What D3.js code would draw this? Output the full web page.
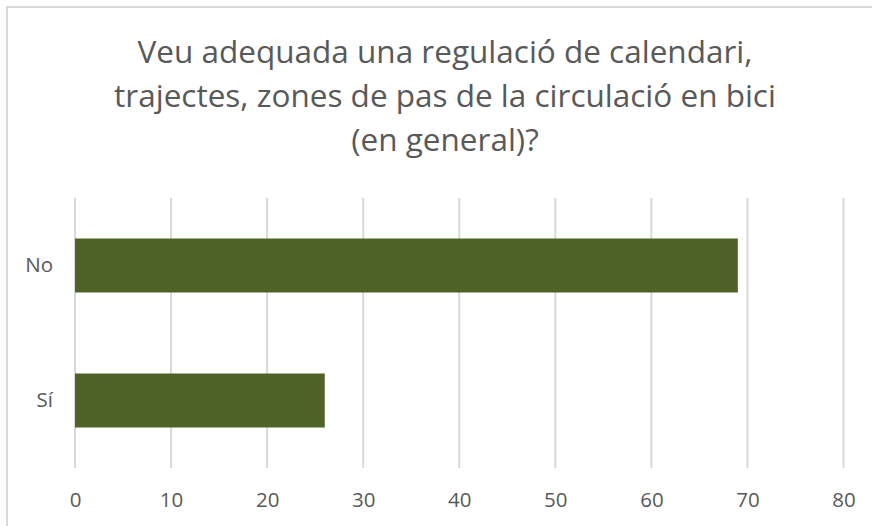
<!DOCTYPE html>
<html>
<head>
<meta charset="utf-8">
<script src="https://cdn.jsdelivr.net/npm/d3@7"></script>
<style>
  body { margin: 0; background: #fff; }
  text { font-family: "Open Sans", sans-serif; fill: #595959; }
</style>
</head>
<body>
<svg></svg>
<script>
var width = 872;
var height = 526;

// data
var categories = ["No", "Sí"];
var values = [69, 26];
var ticks = [0, 10, 20, 30, 40, 50, 60, 70, 80];
var titleLines = [
  "Veu adequada una regulació de calendari,",
  "trajectes, zones de pas de la circulació en bici",
  "(en general)?"
];

var svg = d3.select("svg").attr("width", width).attr("height", height);

var margin = {top: 198, right: 28.5, bottom: 58, left: 75};

// chart border (cut off at right/bottom like the screenshot)
svg.append("rect")
    .attr("x", 7).attr("y", 7)
    .attr("width", 900).attr("height", 600)
    .attr("fill", "none")
    .attr("stroke", "#d9d9d9")
    .attr("stroke-width", 2);

var xScale = d3.scaleLinear().domain([0, 80]).range([margin.left, width - margin.right]);
var yScale = d3.scaleBand().domain(categories)
    .range([margin.top, height - margin.bottom])
    .paddingInner(0.6).paddingOuter(0.3);

// gridlines
svg.append("g").selectAll("line")
    .data(ticks)
    .enter().append("line")
    .attr("x1", function(d) { return xScale(d); })
    .attr("x2", function(d) { return xScale(d); })
    .attr("y1", margin.top)
    .attr("y2", height - margin.bottom)
    .attr("stroke", "#d9d9d9")
    .attr("stroke-width", 2);

// bars
svg.append("g").selectAll("rect")
    .data(categories)
    .enter().append("rect")
    .attr("x", xScale(0))
    .attr("y", function(d) { return yScale(d); })
    .attr("width", function(d, i) { return xScale(values[i]) - xScale(0); })
    .attr("height", yScale.bandwidth())
    .attr("fill", "#4f6228");

// x axis
var xAxis = d3.axisBottom(xScale).tickValues(ticks).tickSize(0).tickPadding(24);
var gx = svg.append("g")
    .attr("transform", "translate(0," + (height - margin.bottom) + ")")
    .call(xAxis);
gx.select(".domain").remove();
gx.selectAll("text").attr("font-size", 20.5).attr("font-family", null).attr("fill", "#595959");

// y axis
var yAxis = d3.axisLeft(yScale).tickSize(0).tickPadding(22);
var gy = svg.append("g")
    .attr("transform", "translate(" + margin.left + ",0)")
    .call(yAxis);
gy.select(".domain").remove();
gy.selectAll("text").attr("font-size", 20.5).attr("font-family", null).attr("fill", "#595959");

// title
svg.append("g").selectAll("text")
    .data(titleLines)
    .enter().append("text")
    .attr("x", 445)
    .attr("y", function(d, i) { return 63 + i * 44; })
    .attr("text-anchor", "middle")
    .attr("font-size", 31.5)
    .text(function(d) { return d; });
</script>
</body>
</html>
